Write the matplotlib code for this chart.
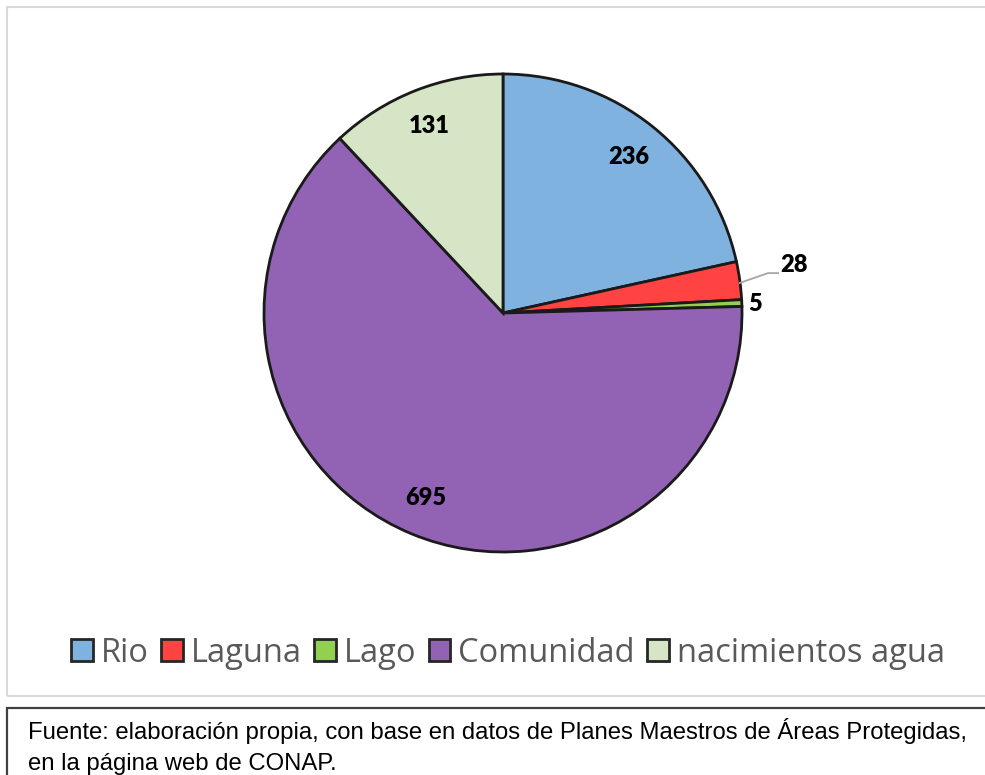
import numpy as np
import matplotlib
matplotlib.use("Agg")
import matplotlib.pyplot as plt
from matplotlib.patches import Rectangle

categories = ["Rio", "Laguna", "Lago", "Comunidad", "nacimientos agua"]
values = [236, 28, 5, 695, 131]
colors = ["#7FB2DE", "#FF4343", "#92D050", "#9262B5", "#D5E5C6"]

W, H = 985, 775
fig = plt.figure(figsize=(W / 100, H / 100), dpi=100)
fig.patch.set_facecolor("white")

def px(x, y):
    return x / W, 1 - y / H

frame = Rectangle(px(7, 696), (W + 20 - 7) / W, (696 - 7) / H, transform=fig.transFigure,
                  fill=False, edgecolor="#D9D9D9", linewidth=1.5)
fig.patches.append(frame)
cap = Rectangle(px(7, H + 20), (W + 20 - 7) / W, (H + 20 - 708) / H, transform=fig.transFigure,
                fill=False, edgecolor="#404040", linewidth=1.6)
fig.patches.append(cap)

cx, cy, R = 503, 313, 239
ax = fig.add_axes([(cx - R) / W, 1 - (cy + R) / H, 2 * R / W, 2 * R / H])
wedges, _ = ax.pie(values, colors=colors, startangle=90, counterclock=False,
                   radius=1.0, wedgeprops=dict(edgecolor="#1A1A1A", linewidth=2.0))
ax.set_xlim(-1, 1)
ax.set_ylim(-1, 1)
ax.set_aspect("equal")
ax.axis("off")

lab_font = dict(family="Lato", weight="heavy", fontsize=17, color="black")
for i, w in enumerate(wedges):
    mid = np.deg2rad((w.theta1 + w.theta2) / 2)
    v = values[i]
    if categories[i] == "Laguna":
        ex, ey = np.cos(mid), np.sin(mid)
        elbow = (1.109, 0.167)
        end = (1.151, 0.167)
        ax.plot([ex, elbow[0], end[0]], [ey - 0.01, elbow[1], end[1]], color="#A6A6A6",
                linewidth=1.3, clip_on=False)
        ax.text(end[0] + 0.01, end[1] + 0.035, str(v), ha="left", va="center", **lab_font)
    elif categories[i] == "Lago":
        r = 1.055
        ax.text(r * np.cos(mid), r * np.sin(mid) - 0.005, str(v), ha="center", va="center", **lab_font)
    else:
        r = 0.84
        ax.text(r * np.cos(mid), r * np.sin(mid), str(v), ha="center", va="center", **lab_font)

handles = [Rectangle((0, 0), 1, 1, facecolor=c, edgecolor="#262626", linewidth=2.0) for c in colors]
leg = fig.legend(handles, categories, loc="center", bbox_to_anchor=(508 / W, 1 - 653 / H),
                 ncol=5, frameon=False, prop=dict(family="Open Sans", size=23.5),
                 handlelength=0.66, handleheight=0.66, handletextpad=0.25, columnspacing=0.38,
                 borderpad=0, borderaxespad=0)
for t in leg.get_texts():
    t.set_color("#595959")

fig.text(28 / W, 1 - 739 / H, "Fuente: elaboración propia, con base en datos de Planes Maestros de Áreas Protegidas,",
         family="Liberation Sans", fontsize=17.2, color="black", ha="left", va="baseline")
fig.text(28 / W, 1 - 770 / H, "en la página web de CONAP.",
         family="Liberation Sans", fontsize=17.2, color="black", ha="left", va="baseline")

fig.savefig("out.png", dpi=100, facecolor="white")
